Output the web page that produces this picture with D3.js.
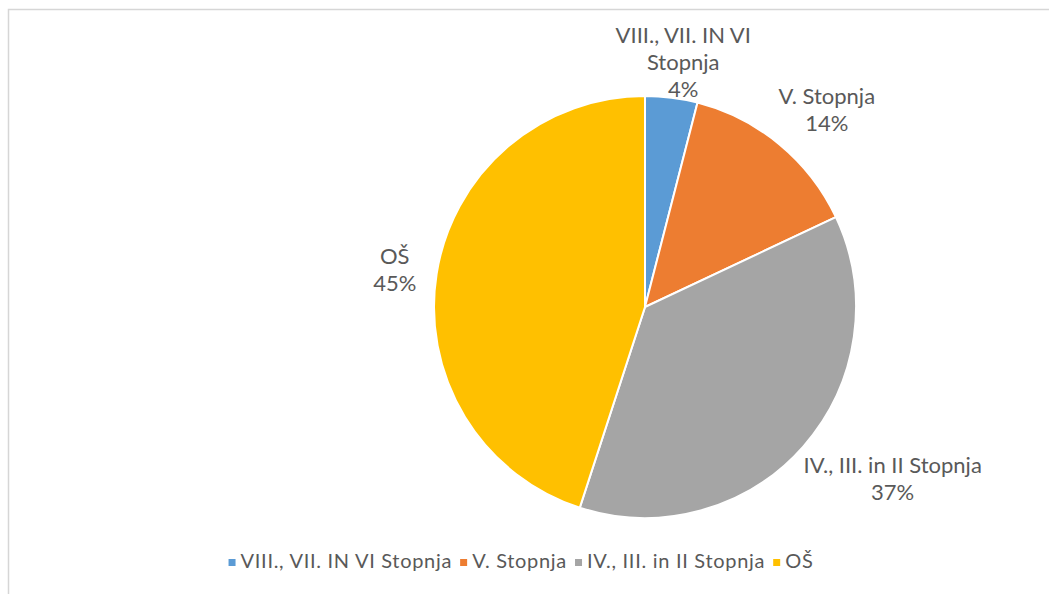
<!DOCTYPE html>
<html lang="sl">
  <head>
    <meta charset="utf-8">
    <title>Izobrazba - struktura</title>
    <script src="https://cdnjs.cloudflare.com/ajax/libs/d3/7.8.5/d3.min.js"></script>
    <style type="text/css">
      body { margin: 0; background: #fff; }
      .label, .legend-text {
        font-family: 'Lato', 'Open Sans', sans-serif;
        fill: #595959;
      }
    </style>
  </head>
  <body>
    <svg id="pie"></svg>
    <script type="text/javascript">
// data
var categories = ["VIII., VII. IN VI Stopnja", "V. Stopnja", "IV., III. in II Stopnja", "OŠ"];
var labelLines = [["VIII., VII. IN VI", "Stopnja"], ["V. Stopnja"], ["IV., III. in II Stopnja"], ["OŠ"]];
var shares = [4, 14, 37, 45];
var colors = ["#5B9BD5", "#ED7D31", "#A5A5A5", "#FFC000"];

// layout
var w = 1049, h = 594;
var cx = 645, cy = 307, radius = 211;
// where Excel put each data label (angle from 12 o'clock, distance from centre)
var labelAngle = [8.9, 42.7, 124.9, 278.4];
var labelDist = [247, 268, 302, 253];
var lineH = 27;

var svg = d3.select("#pie").attr("width", w).attr("height", h);

// chart frame
svg.append("rect")
  .attr("x", 8.5).attr("y", 9.5)
  .attr("width", w + 20).attr("height", h + 20)
  .attr("fill", "none")
  .attr("stroke", "#d6d6d6")
  .attr("stroke-width", 1.5);

var data = categories.map(function(c, i) {
  return { name: c, lines: labelLines[i], value: shares[i], color: colors[i], i: i };
});

var pie = d3.pie().sort(null).value(function(d) { return d.value; });
var arc = d3.arc().innerRadius(0).outerRadius(radius);
var arcs = pie(data);

var g = svg.append("g").attr("transform", "translate(" + cx + "," + cy + ")");

g.selectAll("path").data(arcs)
  .enter().append("path")
  .attr("d", arc)
  .attr("fill", function(d) { return d.data.color; })
  .attr("stroke", "#fff")
  .attr("stroke-width", 2);

// data labels: name lines + percent
g.selectAll("text.label").data(arcs)
  .enter().append("text")
  .attr("class", "label")
  .attr("text-anchor", "middle")
  .style("font-size", "22px")
  .each(function(d) {
    var a = labelAngle[d.data.i] * Math.PI / 180;
    var r = labelDist[d.data.i];
    var x = Math.sin(a) * r, y = -Math.cos(a) * r;
    var lines = d.data.lines.concat([d.data.value + "%"]);
    var top = y - (lines.length - 1) * lineH / 2 + 7;
    var t = d3.select(this);
    lines.forEach(function(l, k) {
      t.append("tspan").attr("x", x).attr("y", top + k * lineH).text(l);
    });
  });

// legend
var legend = svg.append("g");
var items = legend.selectAll("g").data(data).enter().append("g");
items.append("rect")
  .attr("width", 7).attr("height", 7)
  .attr("y", -9)
  .attr("fill", function(d) { return d.color; });
items.append("text")
  .attr("class", "legend-text")
  .attr("x", 12)
  .style("font-size", "20px")
  .style("letter-spacing", "0.7px")
  .text(function(d) { return d.name; });

var xpos = 0;
items.each(function() {
  d3.select(this).attr("transform", "translate(" + xpos + ",0)");
  xpos += 12 + d3.select(this).select("text").node().getComputedTextLength() + 8;
});
xpos -= 8;
legend.attr("transform", "translate(" + (521 - xpos / 2) + ",568)");
    </script>
  </body>
</html>
